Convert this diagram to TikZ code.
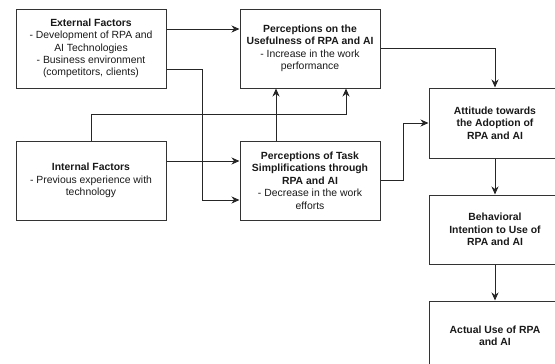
\documentclass[tikz,border=0pt]{standalone}
\usepackage{fontspec}
\setmainfont{Liberation Sans}
\usetikzlibrary{arrows.meta, positioning}

\begin{document}
\begin{tikzpicture}[x=1pt, y=-1pt,
    every node/.style={font=\fontsize{10.4}{12.4}\selectfont, text=black!90},
    box/.style={draw=black!80, line width=1pt, rectangle, align=center, inner sep=2pt},
    conn/.style={draw=black!85, line width=1pt, -{Stealth[length=8pt, width=7pt, inset=2.5pt]}}]
    \path[use as bounding box, clip] (0,0) rectangle (555,364);
    \node[box, minimum width=150pt, minimum height=79pt] (ext) at (91,48.5) {\textbf{External Factors}\\- Development of RPA and\\AI Technologies\\- Business environment\\(competitors, clients)};
    \node[box, minimum width=140pt, minimum height=79pt] (useful) at (310,48.5) {\textbf{Perceptions on the}\\\textbf{Usefulness of RPA and AI}\\- Increase in the work\\performance};
    \node[box, minimum width=150pt, minimum height=79pt] (intern) at (91,180.5) {\textbf{Internal Factors}\\- Previous experience with\\technology};
    \node[box, minimum width=140pt, minimum height=79pt] (task) at (310,180.5) {\textbf{Perceptions of Task}\\\textbf{Simplifications through}\\\textbf{RPA and AI}\\- Decrease in the work\\efforts};
    \node[box, minimum width=132pt, minimum height=70pt] (att) at (495,123) {\textbf{Attitude towards}\\\textbf{the Adoption of}\\\textbf{RPA and AI}};
    \node[box, minimum width=132pt, minimum height=69pt, below=36pt of att] (behav) {\textbf{Behavioral}\\\textbf{Intention to Use of}\\\textbf{RPA and AI}};
    \node[box, minimum width=132pt, minimum height=69pt, below=36pt of behav] (actual) {\textbf{Actual Use of RPA}\\\textbf{and AI}};
    \draw[conn] ([yshift=19.5pt]ext.east) -- ([yshift=19.5pt]useful.west);
    \draw[conn] ([yshift=-20.5pt]ext.east) -- ++(36,0) |- ([yshift=-19.5pt]task.west);
    \draw[conn] (intern.north) -- ++(0,-26) -| ([xshift=36pt]useful.south);
    \draw[conn] ([yshift=19.5pt]intern.east) -- ([yshift=19.5pt]task.west);
    \draw[conn] ([xshift=-34pt]task.north) -- ([xshift=-34pt]useful.south);
    \draw[conn] (useful.east) -| (att.north);
    \draw[conn] (task.east) -- ++(23,0) |- (att.west);
    \draw[conn] (att) -- (behav);
    \draw[conn] (behav) -- (actual);
\end{tikzpicture}
\end{document}
